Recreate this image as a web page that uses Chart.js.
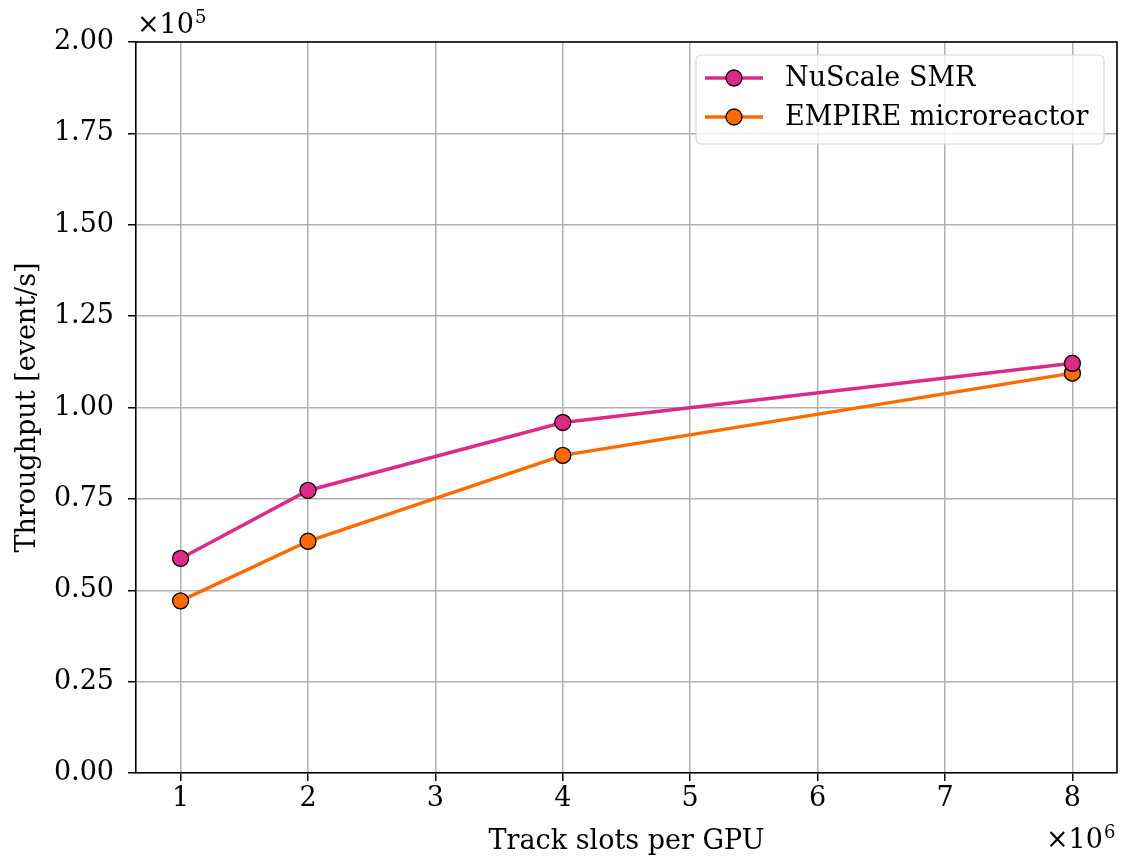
<!DOCTYPE html>
<html>
<head>
<meta charset="utf-8">
<script src="https://cdn.jsdelivr.net/npm/chart.js@4.4.1/dist/chart.umd.min.js"></script>
<style>
  html, body { margin: 0; padding: 0; background: #fff; }
  #wrap { width: 1122px; height: 858px; }
</style>
</head>
<body>
<div id="wrap"><canvas id="throughputChart" width="1122" height="858"></canvas></div>
<script>
// track slots per GPU (x 1e6)
const trackSlots = [1, 2, 4, 8];
// throughput (x 1e5 event/s)
const nuscaleSMR = [0.587, 0.773, 0.959, 1.121];
const empireMicro = [0.471, 0.634, 0.869, 1.094];
const xTicks = [1, 2, 3, 4, 5, 6, 7, 8];
const yTicks = [0, 0.25, 0.5, 0.75, 1.0, 1.25, 1.5, 1.75, 2.0];

const seriesNames = ["NuScale SMR", "EMPIRE microreactor"];
const seriesColors = ["#de2a87", "#ff6a00"];

const FONT = "'DejaVu Serif', serif";
const FS = 27;

function toPoints(ys) {
  return trackSlots.map((x, i) => ({ x, y: ys[i] }));
}

// frame, legend box and the x10^n offset labels
const extras = {
  id: "extras",
  afterDraw(chart) {
    const ctx = chart.ctx;
    const a = chart.chartArea;
    ctx.save();

    // top and right spines
    ctx.strokeStyle = "#000";
    ctx.lineWidth = 1.6;
    ctx.beginPath();
    ctx.moveTo(a.left, a.top);
    ctx.lineTo(a.right, a.top);
    ctx.lineTo(a.right, a.bottom);
    ctx.stroke();

    // legend
    const bx = 696, by = 55, bw = 408, bh = 89, r = 5;
    ctx.beginPath();
    ctx.roundRect(bx, by, bw, bh, r);
    ctx.fillStyle = "rgba(255,255,255,0.8)";
    ctx.fill();
    ctx.strokeStyle = "#d6d6d6";
    ctx.lineWidth = 1.2;
    ctx.stroke();

    const rows = [78, 117];
    ctx.font = FS + "px " + FONT;
    ctx.textBaseline = "middle";
    ctx.textAlign = "left";
    seriesNames.forEach((name, i) => {
      const y = rows[i];
      ctx.strokeStyle = seriesColors[i];
      ctx.lineWidth = 3.5;
      ctx.beginPath();
      ctx.moveTo(705, y);
      ctx.lineTo(763, y);
      ctx.stroke();
      ctx.beginPath();
      ctx.arc(734, y, 8, 0, Math.PI * 2);
      ctx.fillStyle = seriesColors[i];
      ctx.fill();
      ctx.strokeStyle = "#000";
      ctx.lineWidth = 1.3;
      ctx.stroke();
      ctx.fillStyle = "#000";
      ctx.fillText(name, 785, y + 1);
    });

    // offset labels
    function sciLabel(x, baseline, exp) {
      ctx.textBaseline = "alphabetic";
      ctx.font = FS + "px " + FONT;
      ctx.fillStyle = "#000";
      ctx.fillText("\u00d710", x, baseline);
      const w = ctx.measureText("\u00d710").width;
      ctx.font = "18px " + FONT;
      ctx.fillText(exp, x + w + 1, baseline - 10);
    }
    sciLabel(137, 33, "5");
    sciLabel(1046, 848, "6");

    ctx.restore();
  }
};

new Chart(document.getElementById("throughputChart"), {
  type: "line",
  data: {
    datasets: [
      {
        label: seriesNames[0],
        data: toPoints(nuscaleSMR),
        borderColor: seriesColors[0],
        backgroundColor: seriesColors[0],
        borderWidth: 3.5,
        pointRadius: 8,
        pointBorderColor: "#000",
        pointBorderWidth: 1.3,
        pointBackgroundColor: seriesColors[0],
        tension: 0
      },
      {
        label: seriesNames[1],
        data: toPoints(empireMicro),
        borderColor: seriesColors[1],
        backgroundColor: seriesColors[1],
        borderWidth: 3.5,
        pointRadius: 8,
        pointBorderColor: "#000",
        pointBorderWidth: 1.3,
        pointBackgroundColor: seriesColors[1],
        tension: 0
      }
    ]
  },
  options: {
    responsive: false,
    animation: false,
    layout: { autoPadding: false, padding: { top: 42, right: 5, left: 0, bottom: 0 } },
    plugins: {
      legend: { display: false },
      tooltip: { enabled: false }
    },
    scales: {
      x: {
        type: "linear",
        min: 0.65,
        max: 8.35,
        afterBuildTicks: s => { s.ticks = xTicks.map(v => ({ value: v })); },
        afterFit: s => { s.height = 85; s.paddingRight = 0; s.paddingLeft = 0; },
        ticks: {
          color: "#000",
          font: { family: FONT, size: FS },
          padding: 2,
          maxRotation: 0,
          callback: v => String(v)
        },
        grid: {
          color: "#b0b0b0",
          lineWidth: 1.5,
          tickColor: "#000",
          tickLength: 8,
          drawOnChartArea: true
        },
        border: { color: "#000", width: 1.6 },
        title: {
          display: true,
          text: "Track slots per GPU",
          color: "#000",
          font: { family: FONT, size: FS },
          padding: { top: 3, bottom: 0 }
        }
      },
      y: {
        min: 0,
        max: 2,
        afterBuildTicks: s => { s.ticks = yTicks.map(v => ({ value: v })); },
        afterFit: s => { s.width = 136; s.paddingTop = 0; s.paddingBottom = 0; },
        ticks: {
          color: "#000",
          font: { family: FONT, size: FS },
          padding: 14,
          callback: v => v.toFixed(2)
        },
        grid: {
          color: "#b0b0b0",
          lineWidth: 1.5,
          tickColor: "#000",
          tickLength: 8
        },
        border: { color: "#000", width: 1.6 },
        title: {
          display: true,
          text: "Throughput [event/s]",
          color: "#000",
          font: { family: FONT, size: FS },
          padding: { top: 12, bottom: 4 }
        }
      }
    }
  },
  plugins: [extras]
});
</script>
</body>
</html>
